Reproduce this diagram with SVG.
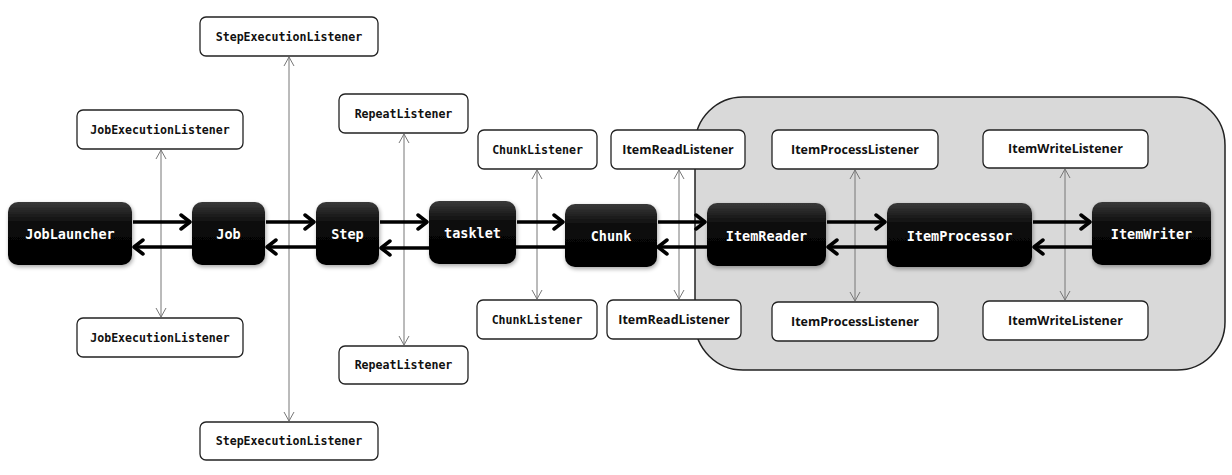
<svg xmlns="http://www.w3.org/2000/svg" width="1232" height="475" viewBox="0 0 1232 475">
<defs>
<linearGradient id="blk" x1="0" y1="0" x2="0" y2="1">
<stop offset="0" stop-color="#3a3a3a"/>
<stop offset="0.35" stop-color="#0a0a0a"/>
<stop offset="1" stop-color="#000"/>
</linearGradient>
<filter id="sh" x="-20%" y="-20%" width="140%" height="150%">
<feGaussianBlur in="SourceAlpha" stdDeviation="2"/>
<feOffset dx="1" dy="2" result="b"/>
<feComponentTransfer><feFuncA type="linear" slope="0.35"/></feComponentTransfer>
<feMerge><feMergeNode/><feMergeNode in="SourceGraphic"/></feMerge>
</filter>
<marker id="ah" markerUnits="userSpaceOnUse" markerWidth="16" markerHeight="18" refX="11" refY="9" orient="auto">
<path d="M2,2 L11,9 L2,16" fill="none" stroke="#000" stroke-width="3.5" stroke-linecap="round" stroke-linejoin="round"/>
</marker>
<marker id="th" markerUnits="userSpaceOnUse" markerWidth="12" markerHeight="12" refX="10" refY="6" orient="auto-start-reverse">
<path d="M1,1 L10,6 L1,11" fill="none" stroke="#777" stroke-width="1"/>
</marker>
</defs>
<style>
.blk rect{fill:url(#blk);filter:url(#sh)}
.blk text{fill:#fff;font-family:"DejaVu Sans Mono","Liberation Mono",monospace;font-weight:bold;font-size:13.5px;text-anchor:middle}
.lst rect{fill:#fff;stroke:#222;stroke-width:1.3}
.lst text{fill:#111;font-family:"DejaVu Sans Mono","Liberation Mono",monospace;font-weight:bold;font-size:11.6px;text-anchor:middle}
.lst text.s{font-family:"Open Sans","Liberation Sans",Arial,sans-serif;font-size:12.5px}
.fl{stroke:#000;stroke-width:3.5;fill:none;marker-end:url(#ah)}
.nl{stroke:#000;stroke-width:3.5;fill:none}
.tl{stroke:#777;stroke-width:1;fill:none;marker-start:url(#th);marker-end:url(#th)}
</style>
<rect id="container" x="695" y="97" width="530" height="273" rx="48" ry="48" fill="#d9d9d9" stroke="#222" stroke-width="1.5"/>
<g id="connectors">
<line class="tl" x1="161" y1="150" x2="161" y2="317"/>
<line class="tl" x1="289" y1="57" x2="289" y2="421"/>
<line class="tl" x1="404" y1="134" x2="404" y2="345"/>
<line class="tl" x1="537" y1="170" x2="537" y2="299"/>
<line class="tl" x1="679" y1="170" x2="679" y2="299"/>
<line class="tl" x1="855" y1="170" x2="855" y2="301"/>
<line class="tl" x1="1065" y1="169" x2="1065" y2="300"/>
<line class="fl" x1="133" y1="222" x2="190" y2="222"/>
<line class="fl" x1="192" y1="247" x2="134" y2="247"/>
<line class="fl" x1="266" y1="222" x2="314" y2="222"/>
<line class="fl" x1="316" y1="247" x2="267" y2="247"/>
<line class="fl" x1="380" y1="222" x2="427" y2="222"/>
<line class="fl" x1="429" y1="248" x2="381" y2="248"/>
<line class="fl" x1="517" y1="222" x2="563" y2="222"/>
<line class="nl" x1="565" y1="247" x2="516" y2="247"/>
<line class="fl" x1="658" y1="222" x2="705" y2="222"/>
<line class="fl" x1="707" y1="247" x2="658" y2="247"/>
<line class="fl" x1="827" y1="222" x2="885" y2="222"/>
<line class="fl" x1="887" y1="247" x2="828" y2="247"/>
<line class="fl" x1="1033" y1="222" x2="1090" y2="222"/>
<line class="fl" x1="1092" y1="247" x2="1034" y2="247"/>
</g>
<g id="JobLauncher" class="blk"><rect x="8" y="202" width="124" height="63" rx="10"/><text x="70" y="239">JobLauncher</text></g>
<g id="Job" class="blk"><rect x="192" y="202" width="73" height="63" rx="10"/><text x="228.5" y="239">Job</text></g>
<g id="Step" class="blk"><rect x="316" y="202" width="63" height="63" rx="10"/><text x="347.5" y="239">Step</text></g>
<g id="tasklet" class="blk"><rect x="429" y="201" width="87" height="63" rx="10"/><text x="472.5" y="238">tasklet</text></g>
<g id="Chunk" class="blk"><rect x="565" y="204" width="92" height="63" rx="10"/><text x="611" y="241">Chunk</text></g>
<g id="ItemReader" class="blk"><rect x="707" y="203" width="119" height="63" rx="10"/><text x="766.5" y="241">ItemReader</text></g>
<g id="ItemProcessor" class="blk"><rect x="887" y="203" width="145" height="64" rx="10"/><text x="959.5" y="241">ItemProcessor</text></g>
<g id="ItemWriter" class="blk"><rect x="1092" y="202" width="119" height="63" rx="10"/><text x="1151.5" y="239">ItemWriter</text></g>
<g id="StepExecutionListenerTop" class="lst"><rect x="200" y="17" width="178" height="39" rx="6"/><text x="289" y="41">StepExecutionListener</text></g>
<g id="StepExecutionListenerBottom" class="lst"><rect x="200" y="422" width="178" height="38" rx="6"/><text x="289" y="445">StepExecutionListener</text></g>
<g id="JobExecutionListenerTop" class="lst"><rect x="77" y="110" width="166" height="39" rx="6"/><text x="160" y="134">JobExecutionListener</text></g>
<g id="JobExecutionListenerBottom" class="lst"><rect x="77" y="318" width="166" height="39" rx="6"/><text x="160" y="342">JobExecutionListener</text></g>
<g id="RepeatListenerTop" class="lst"><rect x="339" y="94" width="129" height="39" rx="6"/><text x="403.5" y="118">RepeatListener</text></g>
<g id="RepeatListenerBottom" class="lst"><rect x="339" y="346" width="129" height="38" rx="6"/><text x="403.5" y="369">RepeatListener</text></g>
<g id="ChunkListenerTop" class="lst"><rect x="478" y="130" width="119" height="39" rx="6"/><text x="537.5" y="154">ChunkListener</text></g>
<g id="ChunkListenerBottom" class="lst"><rect x="477" y="300" width="120" height="39" rx="6"/><text x="537" y="324">ChunkListener</text></g>
<g id="ItemReadListenerTop" class="lst"><rect x="611" y="130" width="134" height="39" rx="6"/><text class="s" x="678" y="154">ItemReadListener</text></g>
<g id="ItemReadListenerBottom" class="lst"><rect x="607" y="300" width="134" height="39" rx="6"/><text class="s" x="674" y="324">ItemReadListener</text></g>
<g id="ItemProcessListenerTop" class="lst"><rect x="772" y="130" width="166" height="39" rx="6"/><text class="s" x="855" y="154">ItemProcessListener</text></g>
<g id="ItemProcessListenerBottom" class="lst"><rect x="772" y="302" width="166" height="39" rx="6"/><text class="s" x="855" y="326">ItemProcessListener</text></g>
<g id="ItemWriteListenerTop" class="lst"><rect x="983" y="130" width="165" height="38" rx="6"/><text class="s" x="1065.5" y="153">ItemWriteListener</text></g>
<g id="ItemWriteListenerBottom" class="lst"><rect x="983" y="301" width="165" height="39" rx="6"/><text class="s" x="1065.5" y="325">ItemWriteListener</text></g>
</svg>
